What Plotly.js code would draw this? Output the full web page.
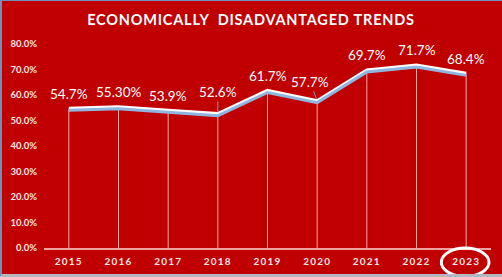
<!DOCTYPE html>
<html>
<head>
<meta charset="utf-8">
<script src="https://cdn.plot.ly/plotly-3.0.1.min.js"></script>
<style>
  html, body { margin: 0; padding: 0; background: #ffffff; }
  #wrap { position: relative; width: 502px; height: 277px; }
  #chart { width: 502px; height: 277px; }
  #frame { position: absolute; left: 0; top: 0; width: 502px; height: 277px; box-sizing: border-box;
           border-left: 2px solid #6f8fc0; border-top: 1px solid #6f8fc0; border-bottom: 3px solid #b4b6c0;
           pointer-events: none; }
  .gtitle { letter-spacing: 0.8px; }
  .xtick text { letter-spacing: 1.2px; }
</style>
</head>
<body>
<div id="wrap">
  <div id="chart"></div>
  <div id="frame"></div>
</div>
<script>
const years = ['2015','2016','2017','2018','2019','2020','2021','2022','2023'];
const values = [54.7, 55.3, 53.9, 52.6, 61.7, 57.7, 69.7, 71.7, 68.4];
const labels = ['54.7%','55.30%','53.9%','52.6%','61.7%','57.7%','69.7%','71.7%','68.4%'];
const yTicks = [0,10,20,30,40,50,60,70,80];
const yTickText = ['0.0%','10.0%','20.0%','30.0%','40.0%','50.0%','60.0%','70.0%','80.0%'];
const leaderOffsets = {'2018': [0, -22], '2020': [-7, -19]};

const red = '#C00000';
const fontFam = 'Lato, "Open Sans", "Liberation Sans", sans-serif';

const traces = [
  { // shadow line
    x: years, y: values, type: 'scatter', mode: 'lines', yaxis: 'y2',
    line: { color: '#8fb6e0', width: 3 }, hoverinfo: 'skip'
  },
  { // drop lines + main line
    x: years, y: values, type: 'scatter', mode: 'lines',
    line: { color: '#ffffff', width: 3.5 },
    error_y: { type: 'data', symmetric: false, array: values.map(() => 0), arrayminus: values,
               color: 'rgba(255,225,225,0.75)', thickness: 1, width: 0 },
    hoverinfo: 'skip'
  }
];

const annotations = years.map((yr, i) => {
  const lo = leaderOffsets[yr];
  const base = { x: i, y: values[i], xref: 'x', yref: 'y', text: labels[i],
                 font: { family: fontFam, size: 13.5, color: '#ffffff' } };
  if (lo) {
    return Object.assign(base, { showarrow: true, arrowhead: 0, arrowwidth: 1, arrowcolor: '#8a9bbf',
                                 ax: lo[0], ay: lo[1], standoff: 2 });
  }
  return Object.assign(base, { showarrow: false, yanchor: 'middle', yshift: 15 });
});

const layout = {
  width: 502, height: 277,
  paper_bgcolor: red, plot_bgcolor: red,
  margin: { l: 44, r: 11, t: 44, b: 29 },
  showlegend: false,
  title: { text: 'ECONOMICALLY  DISADVANTAGED TRENDS', x: 0.5, xanchor: 'center',
           y: 1 - 20/277, yanchor: 'middle', yref: 'container',
           font: { family: fontFam, size: 14.5, color: '#ffffff', weight: 'bold' } },
  xaxis: { type: 'category', range: [-0.5, 8.5], showgrid: false, zeroline: false,
           showline: true, linecolor: 'rgba(255,215,215,0.75)', linewidth: 2,
           ticks: '', ticklabelstandoff: 3,
           tickfont: { family: fontFam, size: 10, color: '#f6e6e6', weight: 'bold' } },
  yaxis: { range: [0, 80], tickvals: yTicks, ticktext: yTickText, showgrid: false, zeroline: false,
           showline: false, ticks: '', ticklabelstandoff: 6,
           tickfont: { family: fontFam, size: 9.5, color: '#f6e6e6', weight: 'bold' } },
  yaxis2: { range: [0.7, 80.7], overlaying: 'y', visible: false },
  annotations: annotations,
  shapes: [
    { type: 'circle', xref: 'x', yref: 'paper', x0: 7.5, x1: 8.46, y0: -0.14, y1: 0.0,
      line: { color: '#ffffff', width: 3 } }
  ]
};

Plotly.newPlot('chart', traces, layout, { displayModeBar: false });
</script>
</body>
</html>
